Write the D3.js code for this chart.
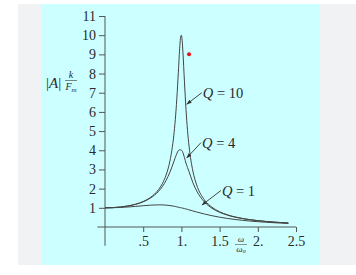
<!DOCTYPE html>
<html>
<head>
<meta charset="utf-8">
<script src="https://cdn.jsdelivr.net/npm/d3@7"></script>
<style>
  html, body { margin: 0; padding: 0; background: #ffffff; }
  #chart { width: 356px; height: 275px; }
  svg text { font-family: "Liberation Serif", "DejaVu Serif", serif; fill: #2a2a2a; }
</style>
</head>
<body>
<div id="chart"></div>
<script>
// ==========================
// Data
// ==========================

const ratio = [0, 0.1, 0.2, 0.3, 0.4, 0.5, 0.6, 0.7, 0.75, 0.8, 0.85, 0.9, 0.92, 0.94, 0.96, 0.98, 0.99, 1.0,
    1.01, 1.02, 1.04, 1.06, 1.08, 1.1, 1.15, 1.2, 1.3, 1.4, 1.5, 1.6, 1.7, 1.8, 1.9, 2.0, 2.1, 2.2, 2.3, 2.4];

const ampQ10 = [1, 1.01, 1.041, 1.098, 1.189, 1.33, 1.556, 1.943, 2.253, 2.712, 3.446, 4.757, 5.586, 6.684, 8.068, 9.462, 9.903, 10,
    9.711, 9.115, 7.565, 6.141, 5.041, 4.218, 2.921, 2.193, 1.424, 1.031, 0.794, 0.638, 0.527, 0.445, 0.382, 0.333, 0.293, 0.26, 0.233, 0.21];

const ampQ4 = [1, 1.01, 1.04, 1.095, 1.182, 1.315, 1.521, 1.855, 2.101, 2.428, 2.861, 3.396, 3.62, 3.83, 3.98, 4.029, 4.02, 4,
    3.97, 3.873, 3.62, 3.33, 3.1, 2.89, 2.314, 1.878, 1.311, 0.979, 0.766, 0.621, 0.516, 0.438, 0.377, 0.329, 0.29, 0.258, 0.231, 0.208];

const ampQ1 = [1, 1.005, 1.02, 1.044, 1.075, 1.109, 1.14, 1.155, 1.152, 1.14, 1.117, 1.087, 1.07, 1.05, 1.03, 1.01, 1.005, 1,
    0.99, 0.98, 0.96, 0.94, 0.92, 0.893, 0.837, 0.782, 0.679, 0.589, 0.512, 0.448, 0.393, 0.348, 0.31, 0.277, 0.25, 0.226, 0.205, 0.188];

const xTicks = [0.5, 1, 1.5, 2, 2.5];
const xTickLabels = [".5", "1.", "1.5", "2.", "2.5"];
const yTicks = [1, 2, 3, 4, 5, 6, 7, 8, 9, 10, 11];

// label text, anchor point in data units, arrow tip in data units
const notes = [
    { text: "10", at: [1.28, 7.0], tip: [1.07, 6.4] },
    { text: "4",  at: [1.27, 4.4], tip: [1.07, 3.6] },
    { text: "1",  at: [1.53, 1.9], tip: [1.27, 1.15] }
];

const redDot = [1.1, 9.0];

// ==========================
// SVG Setup
// ==========================

const width = 356;
const height = 275;

const svg = d3.select("#chart").append("svg")
    .attr("width", width)
    .attr("height", height);

svg.append("rect")
    .attr("x", 18).attr("y", 4)
    .attr("width", width - 18).attr("height", 261)
    .attr("fill", "#f0f2f4");

svg.append("rect")
    .attr("x", 41).attr("y", 4)
    .attr("width", 279).attr("height", 261)
    .attr("fill", "#ccffff");

const defs = svg.append("defs");
defs.append("marker")
    .attr("id", "arrow")
    .attr("viewBox", "0 0 10 10")
    .attr("refX", 9).attr("refY", 5)
    .attr("markerWidth", 6).attr("markerHeight", 6)
    .attr("orient", "auto")
    .append("path")
    .attr("d", "M0,1.5 L10,5 L0,8.5 Z")
    .attr("fill", "#333");

// ==========================
// Scales
// ==========================

const xScale = d3.scaleLinear().domain([0, 2.5]).range([105, 296]);
const yScale = d3.scaleLinear().domain([0, 11]).range([227, 16]);

// ==========================
// Axes
// ==========================

const xAxis = svg.append("g")
    .attr("transform", `translate(0,${yScale(0)})`)
    .call(d3.axisBottom(xScale)
        .tickValues(xTicks)
        .tickSize(5)
        .tickPadding(4)
        .tickFormat((d, i) => xTickLabels[i]));

const yAxis = svg.append("g")
    .attr("transform", `translate(${xScale(0)},0)`)
    .call(d3.axisLeft(yScale)
        .tickValues(yTicks)
        .tickSize(6)
        .tickPadding(3)
        .tickFormat(d3.format("d")));

[xAxis, yAxis].forEach(g => {
    g.attr("font-family", null);
    g.select(".domain").remove();
    g.selectAll("line").attr("stroke", "#555");
    g.selectAll("text")
        .style("font-size", "14px")
        .attr("fill", "#2a2a2a");
});

svg.append("line")
    .attr("x1", xScale(-0.1)).attr("x2", xScale(2.5))
    .attr("y1", yScale(0)).attr("y2", yScale(0))
    .attr("stroke", "#555");

svg.append("line")
    .attr("x1", xScale(0)).attr("x2", xScale(0))
    .attr("y1", yScale(11)).attr("y2", yScale(-0.98))
    .attr("stroke", "#555");

// ==========================
// Curves
// ==========================

const line = d3.line()
    .x(d => xScale(d[0]))
    .y(d => yScale(d[1]))
    .curve(d3.curveMonotoneX);

[ampQ10, ampQ4, ampQ1].forEach(series => {
    svg.append("path")
        .datum(ratio.map((r, i) => [r, series[i]]))
        .attr("d", line)
        .attr("fill", "none")
        .attr("stroke", "#444")
        .attr("stroke-width", 1);
});

// ==========================
// Annotations
// ==========================

notes.forEach(n => {
    svg.append("line")
        .attr("x1", xScale(n.at[0]) - 1)
        .attr("y1", yScale(n.at[1]))
        .attr("x2", xScale(n.tip[0]))
        .attr("y2", yScale(n.tip[1]))
        .attr("stroke", "#333")
        .attr("stroke-width", 0.9)
        .attr("marker-end", "url(#arrow)");

    const t = svg.append("text")
        .attr("x", xScale(n.at[0]))
        .attr("y", yScale(n.at[1]) + 5)
        .style("font-size", "14.5px");
    t.append("tspan").style("font-style", "italic").text("Q");
    t.append("tspan").text(" = " + n.text);
});

svg.append("circle")
    .attr("cx", xScale(redDot[0]))
    .attr("cy", yScale(redDot[1]))
    .attr("r", 2)
    .attr("fill", "#ee1111");

// ==========================
// Axis titles
// ==========================

const yLabel = svg.append("g");
yLabel.append("text")
    .attr("x", 46).attr("y", 88)
    .style("font-size", "15px")
    .html("|<tspan font-style='italic'>A</tspan>|");
yLabel.append("text")
    .attr("x", 71).attr("y", 78)
    .attr("text-anchor", "middle")
    .style("font-size", "10px")
    .style("font-style", "italic")
    .text("k");
yLabel.append("line")
    .attr("x1", 65).attr("x2", 77)
    .attr("y1", 80.5).attr("y2", 80.5)
    .attr("stroke", "#333").attr("stroke-width", 0.6);
yLabel.append("text")
    .attr("x", 71).attr("y", 90)
    .attr("text-anchor", "middle")
    .style("font-size", "10px")
    .style("font-style", "italic")
    .html("F<tspan font-size='7px' dy='1.5'>m</tspan>");

const xLabel = svg.append("g");
xLabel.append("text")
    .attr("x", 241).attr("y", 242)
    .attr("text-anchor", "middle")
    .style("font-size", "9px")
    .style("font-style", "italic")
    .text("ω");
xLabel.append("line")
    .attr("x1", 235).attr("x2", 247)
    .attr("y1", 244.5).attr("y2", 244.5)
    .attr("stroke", "#333").attr("stroke-width", 0.5);
xLabel.append("text")
    .attr("x", 241).attr("y", 252)
    .attr("text-anchor", "middle")
    .style("font-size", "9px")
    .style("font-style", "italic")
    .html("ω<tspan font-size='6px' dy='1'>o</tspan>");
</script>
</body>
</html>
